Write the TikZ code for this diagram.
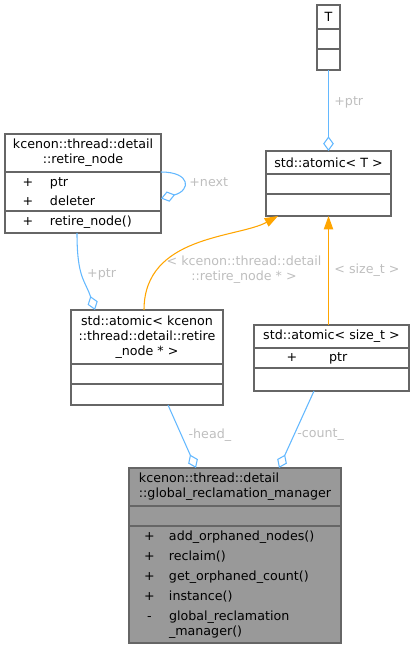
\documentclass[tikz,border=0pt]{standalone}
\usepackage{fontspec}
\setmainfont{DejaVu Sans}
\usetikzlibrary{arrows.meta, positioning, calc}
\definecolor{boxgray}{RGB}{102, 102, 102}
\definecolor{mgrgray}{RGB}{153, 153, 153}
\definecolor{edgeblue}{RGB}{99, 184, 255}
\definecolor{edgeorange}{RGB}{255, 165, 0}
\definecolor{labelgray}{RGB}{190, 190, 190}
\newdimen\pxl \pxl=0.75pt
\newcommand{\diagfont}{\fontsize{9.5}{11.25}\selectfont}
\newcommand{\mvis}[2]{\makebox[#1\pxl][c]{#2}}

\begin{document}
\begin{tikzpicture}[
    x=0.75pt, y=-0.75pt,
    node distance=0pt,
    cls/.style={rectangle, draw=boxgray, fill=white, line width=0.8pt, outer sep=0pt, inner xsep=1\pxl, inner ysep=0pt, font=\diagfont, text=black},
    clshead/.style={cls, align=center},
    clsbody/.style={cls, align=left},
    aggr/.style={draw=edgeblue, line width=0.8pt, {Diamond[open, length=11pt, width=8pt]}-},
    tmpl/.style={draw=edgeorange, line width=0.8pt, -{Triangle[length=10pt, width=7pt]}},
    elabel/.style={font=\diagfont, text=labelgray, inner sep=1pt},
]
\useasboundingbox (0,0) rectangle (414,648);

% Template parameter T
\node[clshead, minimum width=23\pxl, minimum height=24\pxl, anchor=north west] (tT) at (317,5) {T};
\node[clsbody, text width=21\pxl, minimum height=20\pxl, below=of tT] (tA) {};
\node[clsbody, text width=21\pxl, minimum height=21\pxl, below=of tA] (tM) {};

% std::atomic< T >
\node[clshead, minimum width=125\pxl, minimum height=23\pxl, anchor=north west] (atT) at (266,151) {std::atomic< T >};
\node[clsbody, text width=123\pxl, minimum height=20\pxl, below=of atT] (atA) {};
\node[clsbody, text width=123\pxl, minimum height=22\pxl, below=of atA] (atM) {};

% retire_node
\node[clshead, minimum width=156\pxl, minimum height=38\pxl, anchor=north west] (rnT) at (5,134) {kcenon::thread::detail\\::retire\_node};
\node[clsbody, text width=154\pxl, minimum height=39\pxl, below=of rnT] (rnA) {\mvis{44}{+}ptr\\[3.5pt]\mvis{44}{+}deleter};
\node[clsbody, text width=154\pxl, minimum height=22\pxl, below=of rnA] (rnM) {\mvis{44}{+}retire\_node()};

% std::atomic< retire_node * >
\node[clshead, minimum width=152\pxl, minimum height=54\pxl, anchor=north west] (akT) at (71,310) {std::atomic< kcenon\\::thread::detail::retire\\\_node * >};
\node[clsbody, text width=150\pxl, minimum height=20\pxl, below=of akT] (akA) {};
\node[clsbody, text width=150\pxl, minimum height=21\pxl, below=of akA] (akM) {};

% std::atomic< size_t >
\node[clshead, minimum width=155\pxl, minimum height=23\pxl, anchor=north west] (szT) at (254,325) {std::atomic< size\_t >};
\node[clsbody, text width=153\pxl, minimum height=20\pxl, below=of szT] (szA) {\mvis{74}{+}ptr};
\node[clsbody, text width=153\pxl, minimum height=23\pxl, below=of szA] (szM) {};

% global_reclamation_manager
\node[cls, fill=mgrgray, align=left, minimum width=212\pxl, minimum height=38\pxl, anchor=north west] (mgT) at (129,468) {kcenon::thread::detail\\::global\_reclamation\_manager};
\node[clsbody, fill=mgrgray, text width=210\pxl, minimum height=20\pxl, below=of mgT] (mgA) {};
\node[clsbody, fill=mgrgray, text width=210\pxl, minimum height=117\pxl, below=of mgA] (mgM) {\mvis{39}{+}add\_orphaned\_nodes()\\[3.75pt]
\mvis{39}{+}reclaim()\\[3.75pt]
\mvis{39}{+}get\_orphaned\_count()\\[3.75pt]
\mvis{39}{+}instance()\\[3.75pt]
\mvis{39}{-}global\_reclamation\\
\mvis{39}{}\_manager()};

% Members
\draw[aggr] (atT.north) -- node[elabel, right=3pt, pos=0.6] {+ptr} (tM.south);
\draw[aggr] ($(rnA.east)+(0,7)$) .. controls +(30,-8) and +(30,0) .. node[elabel, right=3pt, pos=0.5] {+next} (rnA.north east);
\draw[aggr] ($(akT.north)+(-52,0)$) .. controls +(-10,-30) and +(0,45) .. node[elabel, right=3pt, pos=0.55] {+ptr} ($(rnM.south)+(-6,0)$);
\draw[aggr] ($(mgT.north)+(-39,0)$) -- node[elabel, right=4pt, pos=0.52] {-head\_} ($(akM.south)+(21,0)$);
\draw[aggr] ($(mgT.north)+(44,0)$) -- node[elabel, right=1pt, pos=0.43] {-count\_} ($(szM.south)+(-17.5,0)$);

% Template instances
\draw[tmpl] ($(akT.north)+(-3,0)$) .. controls +(0,-75) and +(-40,22) .. ($(atM.south west)+(12,0)$)
    node[elabel, align=center] at (244,270) {< kcenon::thread::detail\\::retire\_node * >};
\draw[tmpl] (atM.south |- szT.north) -- node[elabel, right=3pt, pos=0.5] {< size\_t >} (atM.south);

\end{tikzpicture}
\end{document}
